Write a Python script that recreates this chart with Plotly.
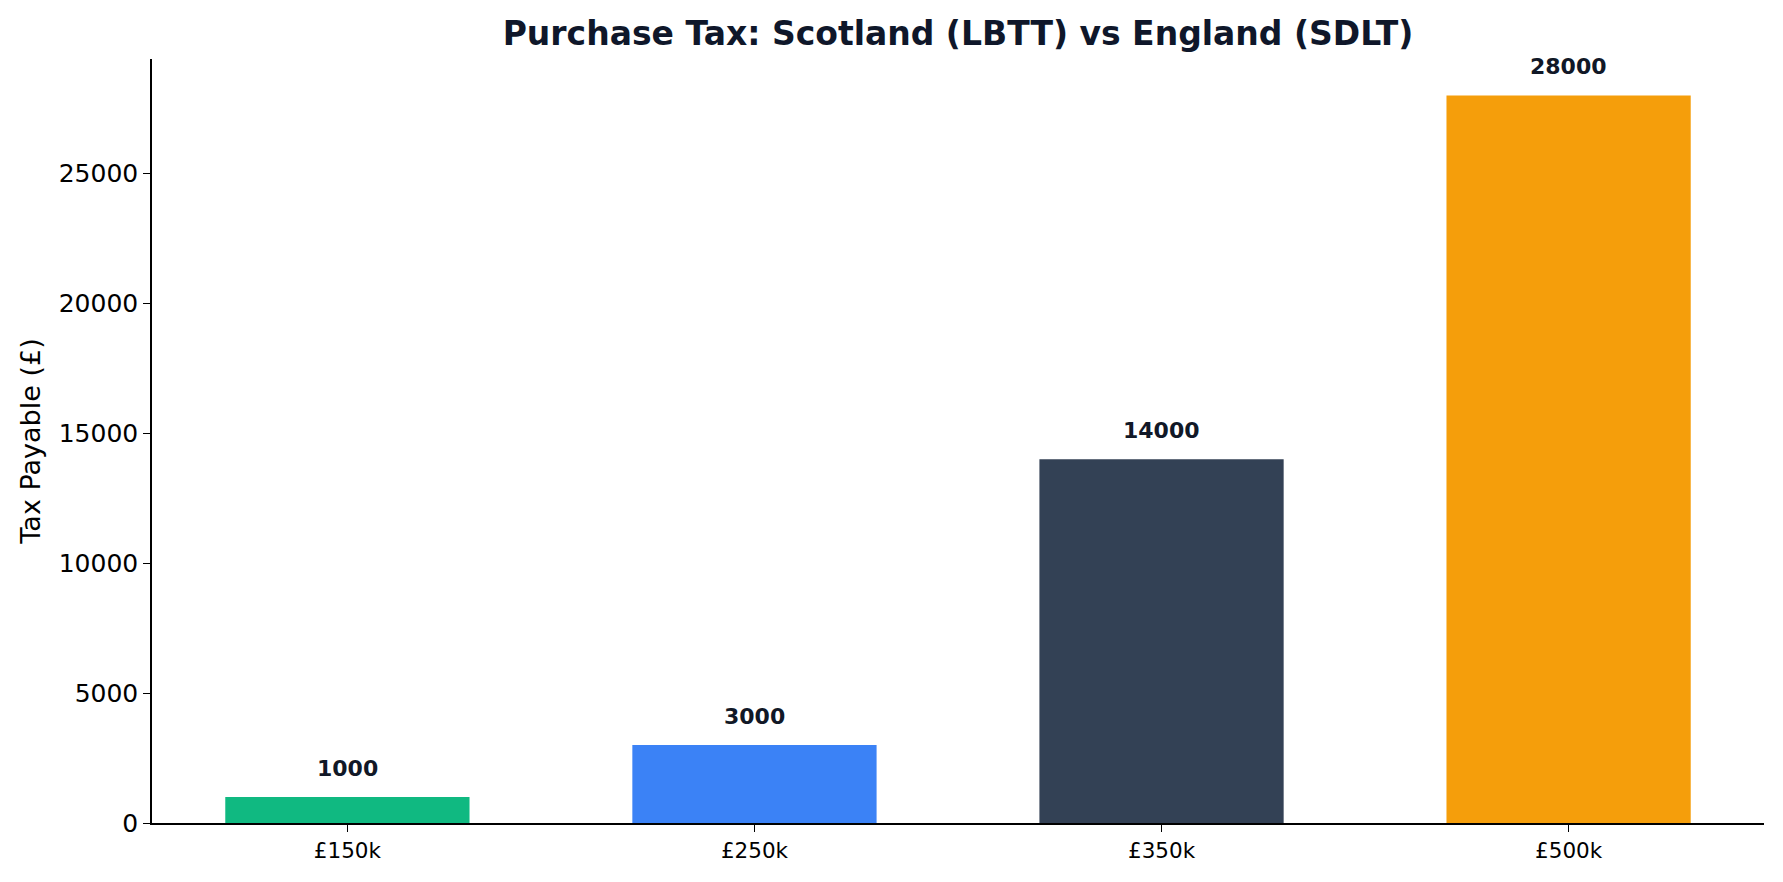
import plotly.graph_objects as go

categories = ["£150k", "£250k", "£350k", "£500k"]
tax_values = [1000, 3000, 14000, 28000]
bar_colors = ["#10b981", "#3b82f6", "#334155", "#f59e0b"]
y_ticks = [0, 5000, 10000, 15000, 20000, 25000]

fig = go.Figure()
fig.add_trace(go.Bar(
    x=list(range(len(categories))),
    y=tax_values,
    marker=dict(color=bar_colors, line=dict(width=0)),
    width=0.6,
    hoverinfo="skip",
))

for i, v in enumerate(tax_values):
    fig.add_annotation(
        x=i, y=v, text=f"<b>{v}</b>", showarrow=False,
        yanchor="bottom", yshift=14,
        font=dict(family="DejaVu Sans", size=22, color="#111827"),
    )

fig.update_layout(
    width=1783, height=882,
    margin=dict(l=152, r=19, t=59, b=59),
    plot_bgcolor="white", paper_bgcolor="white",
    showlegend=False,
    title=dict(
        text="<b>Purchase Tax: Scotland (LBTT) vs England (SDLT)</b>",
        x=(152 + 1764) / 2 / 1783, xanchor="center", y=1 - 33 / 882, yanchor="middle",
        font=dict(family="DejaVu Sans", size=33, color="#0f172a"),
    ),
    font=dict(family="DejaVu Sans", color="black"),
)
fig.update_xaxes(
    range=[-0.48, 3.48],
    tickmode="array", tickvals=list(range(len(categories))), ticktext=categories,
    showline=True, linecolor="black", linewidth=1.5,
    ticks="outside", ticklen=7, tickwidth=1.3, tickcolor="black",
    showgrid=False, zeroline=False,
    tickfont=dict(family="DejaVu Sans", size=21.5, color="black"),
)
fig.update_yaxes(
    range=[0, 29400],
    tickmode="array", tickvals=y_ticks, ticktext=[str(t) for t in y_ticks],
    showline=True, linecolor="black", linewidth=1.5,
    ticks="outside", ticklen=7, tickwidth=1.3, tickcolor="black",
    showgrid=False, zeroline=False,
    tickfont=dict(family="DejaVu Sans", size=25, color="black"),
    title=dict(text="Tax Payable (£)", font=dict(family="DejaVu Sans", size=27, color="black"), standoff=10),
)

fig.write_html("out.html")
